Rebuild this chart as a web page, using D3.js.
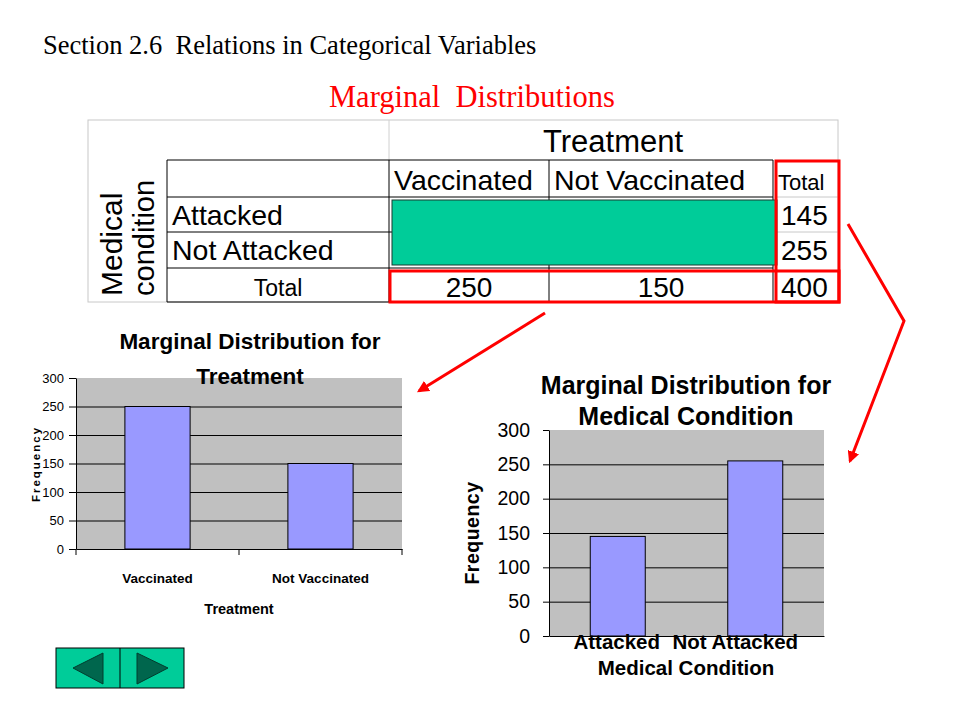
<!DOCTYPE html>
<html>
<head>
<meta charset="utf-8">
<script src="https://cdn.jsdelivr.net/npm/d3@7"></script>
<style>
  body { margin: 0; background: #fff; }
  text { font-family: "Liberation Sans", Arial, sans-serif; }
  .serif { font-family: "Liberation Serif", "Times New Roman", serif; }
</style>
</head>
<body>
<svg id="s1"></svg>
<script>
// data
var treatments = ["Vaccinated", "Not Vaccinated"];
var treatmentTotals = [250, 150];
var conditions = ["Attacked", "Not Attacked"];
var conditionTotals = [145, 255];
var grandTotal = 400;
var yTicks = [0, 50, 100, 150, 200, 250, 300];

var width = 960, height = 720;
var svg = d3.select("#s1").attr("width", width).attr("height", height);
svg.append("rect").attr("width", width).attr("height", height).attr("fill", "#fff");

// headings
svg.append("text").attr("class", "serif")
    .attr("x", 43).attr("y", 54).attr("font-size", 26.5)
    .attr("xml:space", "preserve")
    .text("Section 2.6  Relations in Categorical Variables");
svg.append("text").attr("class", "serif")
    .attr("x", 329).attr("y", 107).attr("font-size", 30.5).attr("fill", "#ff0000")
    .attr("xml:space", "preserve")
    .text("Marginal  Distributions");

// ---------- contingency table ----------
var tbl = svg.append("g");
var colX = [167, 389, 549, 773];   // label col, vaccinated, not vaccinated, total
var rowY = [160, 197, 232, 268, 302];

tbl.append("rect").attr("x", 88).attr("y", 120).attr("width", 750).attr("height", 182)
    .attr("fill", "none").attr("stroke", "#c8c8c8");
tbl.append("line").attr("x1", 389).attr("x2", 389).attr("y1", 120).attr("y2", 160)
    .attr("stroke", "#d0d0d0");
// light gray separators in total column
[rowY[1], rowY[2]].forEach(function (y) {
    tbl.append("line").attr("x1", 776).attr("x2", 838).attr("y1", y).attr("y2", y)
        .attr("stroke", "#c8c8c8");
});
// black grid
rowY.forEach(function (y) {
    tbl.append("line").attr("x1", colX[0]).attr("x2", colX[3]).attr("y1", y).attr("y2", y)
        .attr("stroke", "#000");
});
colX.forEach(function (x) {
    tbl.append("line").attr("x1", x).attr("x2", x).attr("y1", rowY[0]).attr("y2", rowY[4])
        .attr("stroke", "#000");
});

tbl.append("text").attr("x", 613).attr("y", 152).attr("text-anchor", "middle")
    .attr("font-size", 31).text("Treatment");

tbl.selectAll(".colhead").data(treatments).enter().append("text")
    .attr("class", "colhead")
    .attr("x", function (d, i) { return colX[i + 1] + 5; })
    .attr("y", 190).attr("font-size", 28.5)
    .text(function (d) { return d; });
tbl.append("text").attr("x", 778).attr("y", 190).attr("font-size", 22).text("Total");

tbl.selectAll(".rowhead").data(conditions).enter().append("text")
    .attr("class", "rowhead")
    .attr("x", 172)
    .attr("y", function (d, i) { return rowY[i + 1] + 28; })
    .attr("font-size", 28.5)
    .text(function (d) { return d; });
tbl.append("text").attr("x", 278).attr("y", 296).attr("text-anchor", "middle")
    .attr("font-size", 23).text("Total");

tbl.selectAll(".rowtot").data(conditionTotals).enter().append("text")
    .attr("class", "rowtot")
    .attr("x", 781)
    .attr("y", function (d, i) { return rowY[i + 1] + 28; })
    .attr("font-size", 28)
    .text(function (d) { return d; });
tbl.selectAll(".coltot").data(treatmentTotals).enter().append("text")
    .attr("class", "coltot")
    .attr("x", function (d, i) { return (colX[i + 1] + colX[i + 2]) / 2; })
    .attr("y", 297).attr("text-anchor", "middle").attr("font-size", 28)
    .text(function (d) { return d; });
tbl.append("text").attr("x", 781).attr("y", 297).attr("font-size", 28).text(grandTotal);

// rotated row title
tbl.append("text").attr("transform", "translate(122,296) rotate(-90)")
    .attr("font-size", 30).text("Medical");
tbl.append("text").attr("transform", "translate(154,296) rotate(-90)")
    .attr("font-size", 29).text("condition");

// green cover over inner cells
tbl.append("rect").attr("x", 392).attr("y", 200).attr("width", 385).attr("height", 65)
    .attr("fill", "#00cc99").attr("stroke", "#1a3a30").attr("stroke-width", 1);

// red highlight boxes
tbl.append("rect").attr("x", 776).attr("y", 161).attr("width", 63).attr("height", 141)
    .attr("fill", "none").attr("stroke", "#ff0000").attr("stroke-width", 3);
tbl.append("rect").attr("x", 390).attr("y", 271).attr("width", 449).attr("height", 31)
    .attr("fill", "none").attr("stroke", "#ff0000").attr("stroke-width", 3);

// ---------- bar chart helper ----------
function barChart(opts) {
    var g = svg.append("g").attr("transform", "translate(" + opts.left + "," + opts.top + ")");
    var w = opts.width, h = opts.height;
    var x = d3.scaleBand().domain(opts.categories).range([0, w])
        .paddingInner(0.6).paddingOuter(0.3);
    var y = d3.scaleLinear().domain([0, 300]).range([h, 0]);

    g.append("rect").attr("width", w).attr("height", h).attr("fill", "#c0c0c0");

    g.append("g")
        .call(d3.axisLeft(y).tickValues(yTicks.filter(function (t) { return t > 0 && t < 300; }))
            .tickSize(-w).tickFormat(""))
        .call(function (s) { s.select(".domain").remove(); })
        .selectAll("line").attr("stroke", "#000");

    g.selectAll(".bar").data(opts.values).enter().append("rect")
        .attr("class", "bar")
        .attr("x", function (d, i) { return x(opts.categories[i]); })
        .attr("y", function (d) { return y(d); })
        .attr("width", x.bandwidth())
        .attr("height", function (d) { return h - y(d); })
        .attr("fill", "#9999ff").attr("stroke", "#000").attr("stroke-width", 1);

    var ya = g.append("g")
        .call(d3.axisLeft(y).tickValues(yTicks).tickSize(opts.tick).tickSizeOuter(0).tickPadding(opts.pad));
    ya.select(".domain").attr("stroke", "#000");
    ya.selectAll("text").attr("font-size", opts.tickFont).attr("fill", "#000")
        .attr("font-family", opts.tickFamily);
    ya.selectAll("line").attr("stroke", "#000");

    var xa = g.append("g").attr("transform", "translate(0," + h + ")")
        .call(d3.axisBottom(x).tickSize(0).tickSizeOuter(0).tickPadding(opts.labelPad));
    xa.select(".domain").attr("stroke", "#000");
    xa.selectAll("text").attr("font-size", opts.labelFont).attr("font-weight", "bold")
        .attr("fill", "#000")
        .attr("dx", function (d, i) { return opts.labelShift[i]; });

    if (opts.sepTicks) {
        g.selectAll(".sep").data([0, 1, 2]).enter().append("line")
            .attr("x1", function (d) { return d * x.step(); })
            .attr("x2", function (d) { return d * x.step(); })
            .attr("y1", h).attr("y2", h + 6).attr("stroke", "#000");
    }

    opts.title.forEach(function (t, i) {
        g.append("text").attr("x", opts.titleX).attr("y", opts.titleY[i])
            .attr("text-anchor", "middle").attr("font-weight", "bold")
            .attr("font-size", opts.titleFont).text(t);
    });
    g.append("text").attr("x", opts.xTitleX).attr("y", h + opts.xTitleDy)
        .attr("text-anchor", "middle").attr("font-weight", "bold")
        .attr("font-size", opts.xTitleFont).text(opts.xTitle);
    g.append("text")
        .attr("transform", "translate(" + opts.yTitleX + "," + opts.yTitleY + ") rotate(-90)")
        .attr("text-anchor", "middle").attr("font-weight", "bold")
        .attr("font-size", opts.yTitleFont).attr("letter-spacing", opts.yTitleSpacing)
        .text("Frequency");
}

barChart({
    left: 76, top: 378, width: 326, height: 171,
    categories: treatments, values: treatmentTotals,
    tick: 7, pad: 5, tickFont: 13,
    tickFamily: "'Liberation Sans Narrow', 'Arial Narrow', 'Liberation Sans', sans-serif",
    labelFont: 13.5, labelPad: 24, labelShift: [0, 0], sepTicks: true,
    title: ["Marginal Distribution for", "Treatment"], titleX: 174, titleY: [-29, 6], titleFont: 22.5,
    xTitle: "Treatment", xTitleX: 163, xTitleDy: 65, xTitleFont: 14.5,
    yTitleX: -36, yTitleY: 86, yTitleFont: 11.5, yTitleSpacing: 2
});

barChart({
    left: 549, top: 430, width: 275, height: 206,
    categories: conditions, values: conditionTotals,
    tick: 6, pad: 13, tickFont: 19.5, tickFamily: "'Liberation Sans', Arial, sans-serif",
    labelFont: 20.5, labelPad: -2, labelShift: [-1, -20], sepTicks: false,
    title: ["Marginal Distribution for", "Medical Condition"], titleX: 137, titleY: [-36, -5], titleFont: 25,
    xTitle: "Medical Condition", xTitleX: 137, xTitleDy: 39, xTitleFont: 20.5,
    yTitleX: -70, yTitleY: 103, yTitleFont: 19.5, yTitleSpacing: 0.5
});

// ---------- red arrows ----------
var defs = svg.append("defs");
defs.append("marker").attr("id", "ah").attr("viewBox", "0 0 10 10")
    .attr("refX", 8).attr("refY", 5).attr("markerWidth", 4).attr("markerHeight", 4)
    .attr("orient", "auto")
    .append("path").attr("d", "M0,0 L10,5 L0,10 z").attr("fill", "#ff0000");

var line = d3.line();
svg.append("path").attr("d", line([[545, 313], [419, 391]]))
    .attr("fill", "none").attr("stroke", "#ff0000").attr("stroke-width", 3)
    .attr("marker-end", "url(#ah)");
svg.append("path").attr("d", line([[848, 224], [904, 321], [850, 461]]))
    .attr("fill", "none").attr("stroke", "#ff0000").attr("stroke-width", 3)
    .attr("stroke-linejoin", "miter")
    .attr("marker-end", "url(#ah)");

// ---------- navigation buttons ----------
var nav = svg.append("g");
nav.append("rect").attr("x", 56).attr("y", 648).attr("width", 128).attr("height", 40)
    .attr("fill", "#00cc99").attr("stroke", "#000");
nav.append("line").attr("x1", 120).attr("x2", 120).attr("y1", 648).attr("y2", 688).attr("stroke", "#000");
nav.append("path").attr("d", "M73,668 L103,653 L103,684 Z")
    .attr("fill", "#00664d").attr("stroke", "#003d2e");
nav.append("path").attr("d", "M137,653 L168,668 L137,684 Z")
    .attr("fill", "#00664d").attr("stroke", "#003d2e");
</script>
</body>
</html>
